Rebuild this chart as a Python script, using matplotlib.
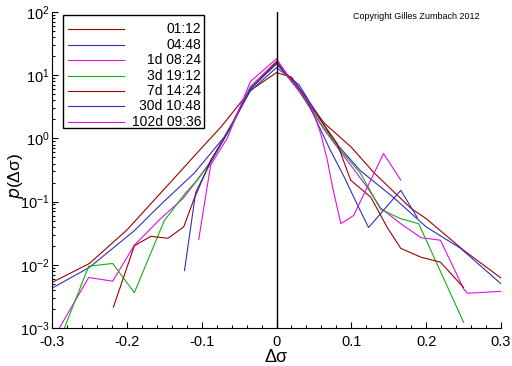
import matplotlib
matplotlib.use("Agg")
import matplotlib.pyplot as plt
from matplotlib.ticker import LogLocator, MultipleLocator, NullFormatter, FormatStrFormatter

plt.rcParams['font.family'] = ['Liberation Sans', 'DejaVu Sans']
plt.rcParams['axes.unicode_minus'] = False

# series: x = delta sigma, p = density
labels = ['01:12', '04:48', '1d 08:24', '3d 19:12', '7d 14:24', '30d 10:48', '102d 09:36']
colors = ['#a00000', '#3030c0', '#e010e0', '#10b010', '#a00000', '#3030c0', '#e010e0']

x_0112 = [-0.3, -0.25, -0.2, -0.15, -0.1, -0.075, -0.035, 0, 0.02, 0.063, 0.1, 0.13, 0.18, 0.2, 0.25, 0.3]
p_0112 = [0.00525, 0.0105, 0.0355, 0.158, 0.708, 1.48, 5.75, 11.0, 9.33, 1.78, 0.724, 0.288, 0.0776, 0.0537, 0.017, 0.00617]

x_0448 = [-0.3, -0.25, -0.19, -0.155, -0.11, -0.07, -0.035, 0, 0.03, 0.076, 0.112, 0.156, 0.2, 0.246, 0.3]
p_0448 = [0.00427, 0.0091, 0.0347, 0.0891, 0.282, 1.05, 5.62, 13.2, 7.08, 0.933, 0.309, 0.117, 0.0398, 0.0182, 0.005]

x_1d = [-0.3, -0.251, -0.219, -0.19, -0.155, -0.125, -0.106, -0.088, -0.06, -0.035, 0, 0.03, 0.063, 0.09,
        0.121, 0.139, 0.166, 0.193, 0.219, 0.25, 0.255, 0.3]
p_1d = [0.00063, 0.0063, 0.0055, 0.0204, 0.0537, 0.112, 0.219, 0.437, 1.66, 6.61, 16.6, 5.62, 1.41, 0.525,
        0.17, 0.0794, 0.0447, 0.0269, 0.0245, 0.00417, 0.00355, 0.0038]

x_3d = [-0.3, -0.251, -0.219, -0.19, -0.15, -0.122, -0.106, -0.088, -0.06, -0.035, 0, 0.03, 0.063, 0.086,
        0.112, 0.139, 0.166, 0.19, 0.25]
p_3d = [0.000316, 0.0095, 0.0105, 0.00363, 0.05, 0.135, 0.219, 0.427, 1.66, 6.31, 15.5, 5.62, 1.48, 0.646,
        0.282, 0.0759, 0.0537, 0.0447, 0.00123]

x_7d = [-0.218, -0.19, -0.168, -0.145, -0.124, -0.11, -0.088, -0.06, -0.035, 0, 0.019, 0.05, 0.081, 0.099,
        0.126, 0.148, 0.166, 0.193, 0.219, 0.25]
p_7d = [0.00214, 0.02, 0.0282, 0.0263, 0.0398, 0.112, 0.447, 1.58, 6.03, 16.2, 8.91, 2.75, 0.832, 0.219,
        0.117, 0.0389, 0.0182, 0.0132, 0.011, 0.00437]

x_30d = [-0.123, -0.108, -0.088, -0.06, -0.035, 0, 0.036, 0.072, 0.09, 0.106, 0.123, 0.166, 0.188]
p_30d = [0.0081, 0.141, 0.417, 1.58, 6.03, 15.1, 5.13, 0.646, 0.251, 0.1, 0.0389, 0.151, 0.0562]

x_102d = [-0.104, -0.088, -0.066, -0.035, 0, 0.019, 0.045, 0.059, 0.068, 0.075, 0.086, 0.103, 0.143, 0.166]
p_102d = [0.0251, 0.38, 1.0, 7.94, 18.2, 8.32, 3.55, 1.2, 0.447, 0.166, 0.0447, 0.0603, 0.575, 0.219]

xs = [x_0112, x_0448, x_1d, x_3d, x_7d, x_30d, x_102d]
ps = [p_0112, p_0448, p_1d, p_3d, p_7d, p_30d, p_102d]

fig = plt.figure(figsize=(5.12, 3.66), dpi=100)
ax = fig.add_axes([0.1016, 0.1038, 0.877, 0.8634])

for x, p, c in zip(xs, ps, colors):
    ax.plot(x, p, color=c, lw=0.8)

ax.axvline(0, color='black', lw=1)

ax.set_yscale('log')
ax.set_xlim(-0.3, 0.3)
ax.set_ylim(1e-3, 1e2)
ax.xaxis.set_major_locator(MultipleLocator(0.1))
ax.xaxis.set_minor_locator(MultipleLocator(0.02))
ax.xaxis.set_major_formatter(FormatStrFormatter('%g'))
ax.yaxis.set_major_locator(LogLocator(base=10, numticks=10))
ax.yaxis.set_minor_locator(LogLocator(base=10, subs=range(2, 10), numticks=20))
ax.yaxis.set_minor_formatter(NullFormatter())

for s in ['top', 'right']:
    ax.spines[s].set_visible(False)
ax.tick_params(which='both', direction='in', top=False, right=False, labelsize=10.5)
ax.tick_params(axis='x', pad=5)
ax.tick_params(axis='y', pad=2)
ax.tick_params(which='major', length=4.5, width=0.8)
ax.tick_params(which='minor', length=2.5, width=0.8)

ax.set_xlabel('Δσ', fontsize=13, labelpad=0)
ax.set_ylabel('$p$(Δσ)', fontsize=12.5)
ax.yaxis.set_label_coords(-0.058, 0.48)

ax.text(0.953, 0.987, 'Copyright Gilles Zumbach 2012', transform=ax.transAxes,
        ha='right', va='center', fontsize=6.5)

# legend drawn by hand: lines on the left, labels flush right
box = plt.Rectangle((0.0245, 0.633), 0.314, 0.3575, transform=ax.transAxes,
                    facecolor='white', edgecolor='black', lw=1, zorder=5)
ax.add_patch(box)
for i, (lab, c) in enumerate(zip(labels, colors)):
    yy = 0.945 - i * 0.0487
    ax.plot([0.036, 0.16], [yy, yy], color=c, lw=0.8, transform=ax.transAxes, zorder=6)
    ax.text(0.332, yy, lab, transform=ax.transAxes, ha='right', va='center',
            fontsize=10, zorder=6)

fig.savefig('out.png', dpi=100)
